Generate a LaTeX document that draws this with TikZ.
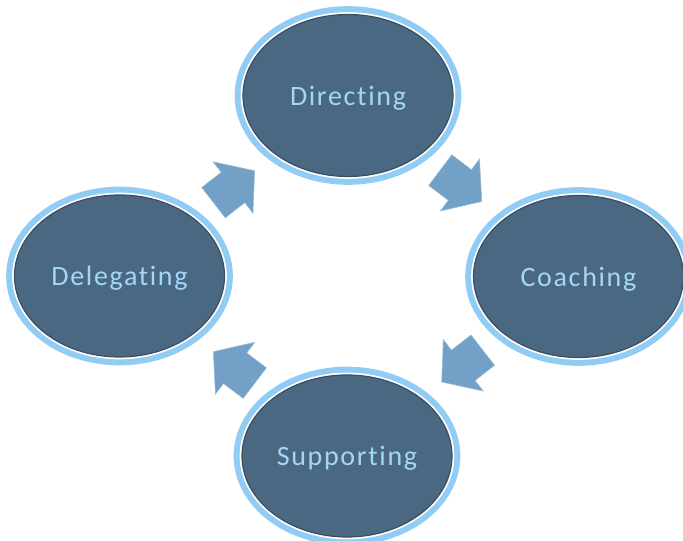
\documentclass[tikz,border=0pt]{standalone}
\usepackage{fontspec}
\setmainfont{Carlito}[LetterSpace=6, Ligatures=NoCommon]
\usepackage{tikz}
\usetikzlibrary{shapes.geometric,shapes.arrows,positioning}

\definecolor{ovalfill}{HTML}{4B6882}
\definecolor{ovalline}{HTML}{3A4E60}
\definecolor{ringblue}{HTML}{91CCF5}
\definecolor{labelblue}{HTML}{A3D6F7}
\definecolor{arrowblue}{HTML}{72A0C6}

\tikzset{
	stage/.style={ellipse, minimum width=157.5pt, minimum height=121.5pt, inner sep=0pt,
		preaction={draw=ringblue, line width=12.5pt},
		preaction={draw=white, line width=3.5pt},
		fill=ovalfill, draw=ovalline, line width=0.9pt, text depth=0pt,
		text=labelblue, font=\fontsize{21}{25}\selectfont},
	cyclearrow/.style={single arrow, fill=arrowblue, draw=arrowblue!70!white, line width=0.4pt,
		minimum height=39pt, inner xsep=0pt, inner ysep=14.2pt, single arrow head extend=10pt,
		single arrow tip angle=100, anchor=tail}
}

\begin{document}
\begin{tikzpicture}[x=0.75pt, y=-0.75pt]
	\useasboundingbox[fill=white] (0,0) rectangle (683,541);
	\node[stage] (directing) at (348,95.5) {Directing};
	\node[stage] (coaching) at (578.5,276.5) {Coaching};
	\node[stage] (supporting) at (347,456) {Supporting};
	\node[stage] (delegating) at (119.5,276) {Delegating};
	\node[cyclearrow, rotate=37.8] (arrowtl) at (213.3,202.8) {};
	\node[cyclearrow, rotate=-37] (arrowtr) at (440,170) {};
	\node[cyclearrow, rotate=217.8] (arrowbr) at (483,350) {};
	\node[cyclearrow, rotate=142.8] (arrowbl) at (255,383.3) {};
\end{tikzpicture}
\end{document}
